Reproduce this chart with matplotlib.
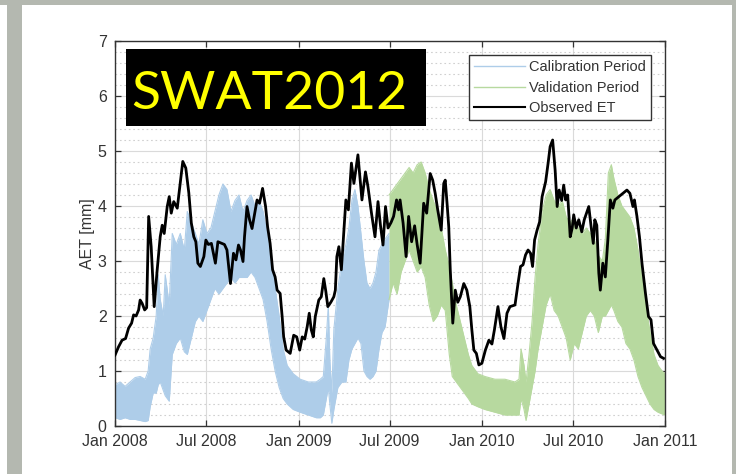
import numpy as np
import matplotlib.pyplot as plt
import matplotlib.dates as mdates
from matplotlib.patches import Rectangle
from matplotlib.lines import Line2D

# observed evapotranspiration: days since 2008-01-01, value in mm
obs_day = [0, 7, 14, 21, 27, 33, 37, 42, 47, 50, 54, 59, 63, 67, 72, 78, 84, 90, 94, 98,
           104, 108, 112, 117, 124, 130, 135, 141, 147, 152, 157, 161, 165, 170, 177, 181,
           186, 192, 200, 205, 213, 218, 223, 230, 236, 241, 246, 250, 255, 258, 263, 268,
           273, 278, 283, 288, 294, 300, 304, 309, 314, 319, 323, 329, 333, 336, 341, 349,
           356, 362, 368, 373, 378, 383, 387, 391, 395, 399, 406, 411, 416, 420, 424, 430,
           436, 439, 442, 446, 451, 456, 460, 465, 471, 476, 484, 488, 492, 499, 504, 511,
           518, 524, 529, 534, 539, 544, 550, 555, 561, 565, 568, 574, 580, 585, 591, 597,
           602, 608, 615, 621, 628, 633, 638, 643, 650, 655, 658, 662, 665, 668, 673, 678,
           683, 688, 695, 701, 707, 711, 715, 720, 725, 731, 738, 745, 751, 756, 763, 769,
           775, 781, 787, 797, 803, 808, 813, 818, 823, 828, 832, 836, 841, 846, 851, 858,
           863, 867, 872, 877, 881, 885, 890, 894, 898, 902, 907, 911, 914, 919, 924, 930,
           935, 944, 949, 953, 956, 960, 964, 967, 972, 977, 982, 987, 992, 996, 1004, 1012,
           1020, 1026, 1032, 1035, 1040, 1045, 1050, 1057, 1063, 1068, 1073, 1080, 1087, 1093]
obs_et = [1.29, 1.44, 1.56, 1.59, 1.78, 1.87, 2.02, 2.00, 2.11, 2.29, 2.23, 2.11, 2.15, 3.81,
          3.26, 2.17, 2.84, 3.44, 3.65, 3.50, 3.99, 4.17, 3.87, 4.08, 3.96, 4.42, 4.81, 4.69,
          4.24, 3.69, 3.44, 3.35, 2.96, 2.90, 3.08, 3.38, 3.30, 3.32, 2.96, 3.35, 3.32, 3.30,
          3.20, 2.59, 3.14, 3.02, 3.29, 3.20, 2.99, 3.44, 3.99, 3.75, 3.59, 3.85, 4.11, 4.05,
          4.32, 3.99, 3.62, 3.32, 2.84, 2.71, 2.47, 2.41, 1.99, 1.62, 1.38, 1.32, 1.65, 1.62,
          1.38, 1.62, 1.58, 1.81, 2.05, 1.75, 1.62, 1.99, 2.29, 2.35, 2.68, 2.45, 2.17, 2.25,
          2.35, 2.47, 3.08, 3.26, 2.84, 3.56, 4.11, 3.93, 4.78, 4.41, 4.93, 4.53, 4.11, 4.62,
          4.35, 3.87, 3.44, 4.08, 3.64, 3.29, 3.99, 3.60, 3.70, 3.81, 4.11, 3.93, 4.11, 3.69,
          3.08, 3.81, 3.35, 3.64, 3.30, 2.96, 4.05, 3.87, 4.59, 4.47, 4.23, 3.93, 3.56, 4.41,
          4.47, 4.00, 3.62, 2.84, 1.87, 2.47, 2.25, 2.35, 2.59, 2.47, 2.17, 1.75, 1.38, 1.32,
          1.11, 1.14, 1.38, 1.56, 1.49, 1.75, 2.17, 1.80, 1.59, 2.05, 2.17, 2.20, 2.59, 2.90,
          2.93, 3.11, 3.20, 3.14, 2.90, 3.38, 3.56, 3.71, 4.17, 4.44, 4.78, 5.08, 5.20, 4.65,
          3.99, 4.29, 4.10, 4.38, 4.11, 4.20, 3.44, 3.60, 3.84, 3.60, 3.75, 3.53, 3.75, 3.99,
          3.60, 3.32, 3.75, 3.65, 2.78, 2.47, 2.96, 2.71, 3.38, 4.11, 3.96, 4.11, 4.17, 4.23,
          4.29, 4.23, 3.99, 4.11, 3.81, 3.44, 2.96, 2.41, 1.99, 1.93, 1.50, 1.38, 1.26, 1.23]

# simulated ensemble range, calibration period
cal_day = [0, 10, 20, 30, 40, 50, 60, 66, 70, 76, 82, 86, 90, 96, 100, 108, 114, 122, 130,
           138, 144, 152, 160, 167, 175, 183, 191, 199, 207, 215, 223, 231, 239, 247, 255,
           263, 271, 279, 287, 295, 303, 311, 319, 327, 335, 343, 355, 369, 385, 401, 409,
           415, 421, 425, 428, 432, 436, 444, 452, 460, 466, 472, 478, 484, 490, 496, 502,
           508, 514, 520, 526, 532, 538, 546]
cal_low = [0.15, 0.12, 0.15, 0.12, 0.12, 0.10, 0.08, 0.10, 0.35, 0.60, 0.60, 0.75, 0.80,
           0.65, 0.55, 0.45, 1.30, 1.50, 1.60, 1.35, 1.30, 1.60, 1.90, 2.00, 1.90, 2.10,
           2.30, 2.50, 2.40, 2.50, 2.60, 2.70, 2.60, 2.70, 2.70, 2.70, 2.80, 2.70, 2.50,
           2.30, 1.90, 1.40, 1.00, 0.70, 0.50, 0.40, 0.30, 0.25, 0.20, 0.15, 0.15, 0.20,
           0.50, 0.70, 0.40, 0.05, 0.30, 0.70, 0.80, 0.80, 1.20, 1.40, 1.50, 1.60, 1.50,
           1.00, 0.90, 0.85, 0.90, 1.00, 1.40, 1.70, 1.80, 2.30]
cal_high = [0.75, 0.80, 0.72, 0.80, 0.88, 0.90, 0.85, 1.00, 1.40, 1.60, 2.00, 2.75, 2.30,
            2.00, 2.75, 2.20, 3.50, 3.30, 3.50, 3.20, 3.90, 3.70, 3.50, 3.30, 3.75, 3.50,
            3.60, 3.90, 4.20, 4.40, 4.30, 3.90, 4.10, 4.20, 3.90, 4.10, 4.20, 4.00, 4.10,
            3.90, 3.50, 3.00, 2.50, 2.00, 1.40, 1.10, 0.95, 0.85, 0.80, 0.80, 0.85, 0.90,
            1.60, 2.20, 1.20, 0.60, 1.75, 2.50, 3.00, 3.30, 3.60, 4.10, 4.30, 4.00, 3.50,
            3.00, 2.60, 2.50, 2.60, 2.80, 3.20, 3.30, 3.40, 3.50]

# simulated ensemble range, validation period
val_day = [546, 554, 562, 570, 578, 586, 594, 602, 610, 618, 626, 634, 642, 650, 658, 666,
           672, 680, 688, 696, 704, 711, 723, 737, 757, 777, 797, 805, 809, 815, 819, 825,
           831, 837, 843, 851, 859, 867, 875, 883, 891, 899, 907, 915, 923, 931, 939, 947,
           955, 963, 971, 977, 983, 989, 994, 1002, 1010, 1018, 1026, 1034, 1042, 1050,
           1058, 1066, 1074, 1082, 1090, 1096]
val_low = [2.30, 2.60, 2.40, 2.80, 3.00, 3.20, 3.00, 2.80, 2.90, 2.70, 2.20, 1.90, 2.00,
           2.20, 2.10, 1.30, 0.90, 0.80, 0.70, 0.60, 0.50, 0.40, 0.35, 0.30, 0.25, 0.20,
           0.20, 0.20, 0.50, 0.30, 0.10, 0.40, 0.70, 1.00, 1.40, 1.80, 2.20, 2.40, 2.10,
           2.00, 1.80, 1.60, 1.20, 1.50, 1.40, 1.70, 2.00, 2.10, 2.00, 1.70, 2.00, 2.00,
           2.10, 2.20, 2.10, 1.90, 1.80, 1.50, 1.40, 1.20, 0.90, 0.70, 0.55, 0.40, 0.30,
           0.25, 0.22, 0.20]
val_high = [4.20, 4.30, 4.40, 4.50, 4.60, 4.70, 4.60, 4.75, 4.80, 4.60, 4.30, 4.10, 3.90,
            3.60, 3.20, 2.90, 2.60, 2.20, 1.90, 1.60, 1.30, 1.10, 0.95, 0.90, 0.85, 0.85,
            0.80, 0.85, 1.40, 1.10, 0.80, 1.30, 1.90, 2.70, 3.30, 3.90, 4.20, 4.30, 4.10,
            4.00, 4.10, 3.80, 3.70, 3.80, 3.60, 3.50, 3.60, 3.50, 3.40, 3.10, 3.00, 3.40,
            4.60, 4.75, 4.50, 4.20, 4.00, 3.90, 3.80, 3.60, 3.20, 2.70, 2.20, 1.70, 1.30,
            1.10, 1.00, 0.95]

start = np.datetime64('2008-01-01')


def to_dates(days):
    return start + np.array(days, dtype='timedelta64[D]')


cal_color = '#aecde9'
val_color = '#b7d99f'
text_color = '#333333'

plt.rcParams['font.family'] = ['Liberation Sans', 'DejaVu Sans']

fig = plt.figure(figsize=(7.36, 4.74), dpi=100)
ax = fig.add_axes([0.1563, 0.1013, 0.7473, 0.8122])

cd = to_dates(cal_day)
vd = to_dates(val_day)
ax.fill_between(cd, cal_low, cal_high, color=cal_color, lw=0, zorder=2)
ax.plot(cd, cal_high, color=cal_color, lw=0.8, zorder=2)
ax.plot(cd, cal_low, color=cal_color, lw=0.8, zorder=2)
ax.fill_between(vd, val_low, val_high, color=val_color, lw=0, zorder=2)
ax.plot(vd, val_high, color=val_color, lw=0.8, zorder=2)
ax.plot(vd, val_low, color=val_color, lw=0.8, zorder=2)
ax.plot(to_dates(obs_day), obs_et, color='black', lw=2.0, zorder=3)

ax.set_xlim(np.datetime64('2008-01-01'), np.datetime64('2011-01-01'))
ax.set_ylim(0, 7)
ax.xaxis.set_major_locator(mdates.MonthLocator(bymonth=[1, 7]))
ax.xaxis.set_major_formatter(mdates.DateFormatter('%b %Y'))
ax.set_yticks(range(0, 8))
ax.set_yticks(np.arange(0, 7.01, 0.2), minor=True)

ax.grid(True, which='major', color='#dadada', lw=0.8, zorder=0)
ax.grid(True, which='minor', axis='y', color='#d0d0d0', lw=0.8, ls=(0, (1.5, 2.5)), zorder=0)
ax.set_axisbelow(True)
ax.tick_params(which='major', direction='in', length=4, width=0.9, top=True, right=True,
               labelsize=11.5, labelcolor=text_color, color='#333333', pad=6)
ax.tick_params(which='minor', length=0)
for s in ax.spines.values():
    s.set_color('#333333')
    s.set_linewidth(1.0)
ax.set_ylabel('AET [mm]', fontsize=11.5, color=text_color, labelpad=2)

handles = [Line2D([], [], color=cal_color, lw=1.0),
           Line2D([], [], color=val_color, lw=1.0),
           Line2D([], [], color='black', lw=1.5)]
leg = ax.legend(handles, ['Calibration Period', 'Validation Period', 'Observed ET'],
                loc='upper right', bbox_to_anchor=(0.9745, 0.9636), fontsize=10.5,
                fancybox=False, framealpha=1, edgecolor='#333333', handlelength=3.5,
                handletextpad=0.3, labelspacing=0.45, borderpad=0.35, borderaxespad=0)
leg.get_frame().set_linewidth(1.0)
for t in leg.get_texts():
    t.set_color(text_color)

# model label box
fig.patches.append(Rectangle((126 / 736, 1 - 126 / 474), 300 / 736, 77 / 474,
                             transform=fig.transFigure, facecolor='black', zorder=5))
fig.text(131 / 736, 1 - 109 / 474, 'SWAT2012', fontsize=38.5, family='Lato',
         color='#ffff00', ha='left', va='baseline', zorder=6)

# page frame
frame = '#b4b8b0'
fig.patches.append(Rectangle((7 / 736, 0), 15 / 736, 1, transform=fig.transFigure,
                             facecolor=frame, lw=0, zorder=0))
fig.patches.append(Rectangle((0, 1 - 5 / 474), 1, 5 / 474, transform=fig.transFigure,
                             facecolor=frame, lw=0, zorder=0))
fig.patches.append(Rectangle((732 / 736, 0), 4 / 736, 1, transform=fig.transFigure,
                             facecolor=frame, lw=0, zorder=0))

fig.savefig('out.png', dpi=100)
